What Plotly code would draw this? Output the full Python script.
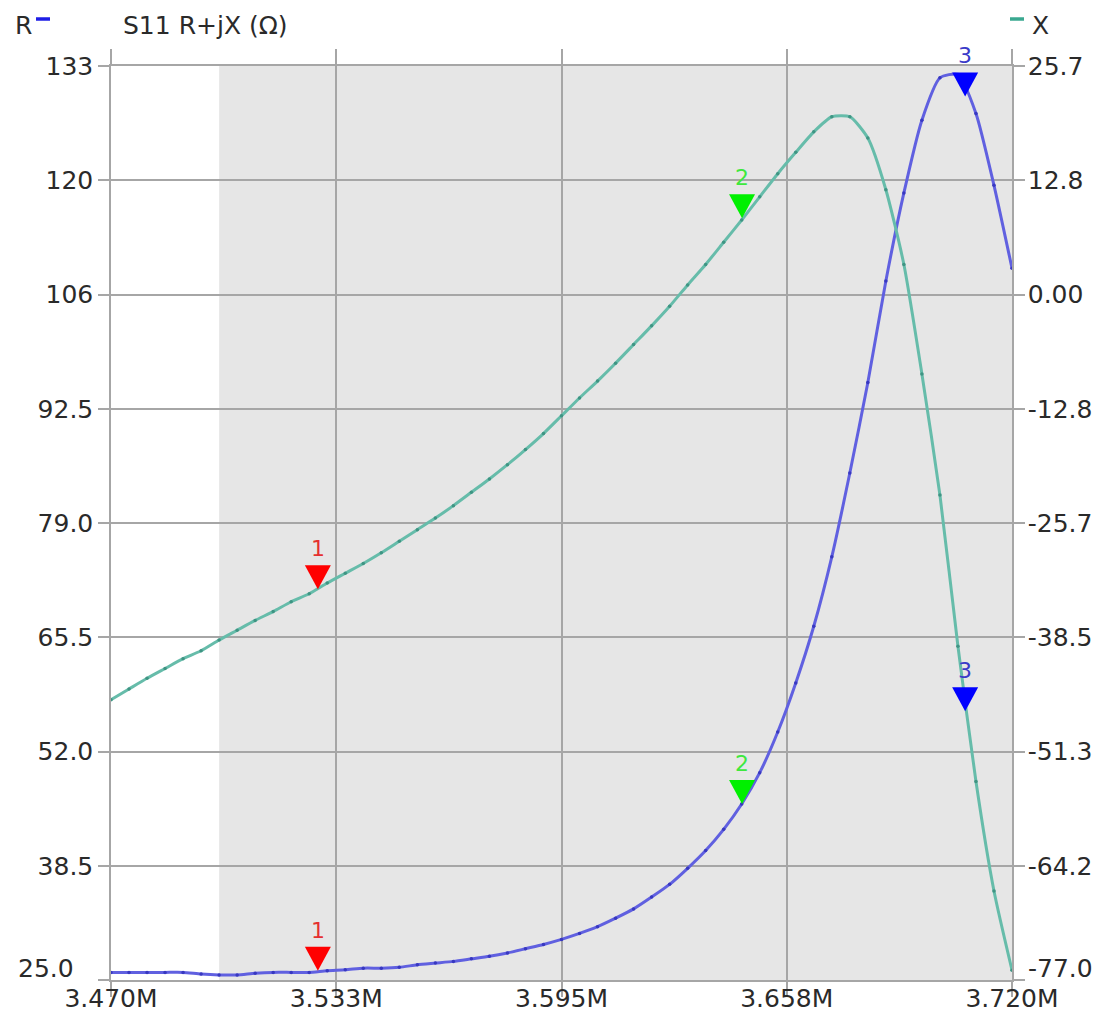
import plotly.graph_objects as go

# ---------------- data ----------------
freq_mhz = [3.470, 3.475, 3.480, 3.485, 3.490, 3.495, 3.500, 3.505, 3.510, 3.515,
            3.520, 3.525, 3.530, 3.535, 3.540, 3.545, 3.550, 3.555, 3.560, 3.565,
            3.570, 3.575, 3.580, 3.585, 3.590, 3.595, 3.600, 3.605, 3.610, 3.615,
            3.620, 3.625, 3.630, 3.635, 3.640, 3.645, 3.650, 3.655, 3.660, 3.665,
            3.670, 3.675, 3.680, 3.685, 3.690, 3.695, 3.700, 3.705, 3.710, 3.715,
            3.720]

r_ohm = [25.9, 25.9, 25.9, 25.9, 25.9, 25.7, 25.6, 25.6, 25.8, 25.9,
         25.9, 25.9, 26.1, 26.2, 26.4, 26.4, 26.5, 26.8, 27.0, 27.2,
         27.5, 27.8, 28.2, 28.7, 29.2, 29.8, 30.5, 31.3, 32.3, 33.4,
         34.8, 36.3, 38.2, 40.3, 42.8, 45.8, 49.5, 54.3, 60.1, 66.8,
         75.0, 84.9, 95.6, 107.6, 118.0, 126.6, 131.6, 132.0, 127.4, 118.9,
         109.1]

x_ohm = [-45.5, -44.3, -43.1, -42.0, -40.9, -40.0, -38.8, -37.7, -36.6, -35.6,
         -34.5, -33.6, -32.4, -31.3, -30.2, -29.0, -27.7, -26.4, -25.1, -23.7,
         -22.2, -20.7, -19.1, -17.4, -15.6, -13.6, -11.6, -9.7, -7.7, -5.6,
         -3.5, -1.3, 1.1, 3.4, 5.9, 8.4, 11.0, 13.6, 16.0, 18.3,
         20.0, 20.0, 17.6, 11.8, 3.4, -8.9, -22.5, -39.5, -54.7, -67.0,
         -75.9]

marker_ids = ["1", "2", "3"]
marker_freq = [3.5274, 3.6451, 3.7070]
marker_r = [26.1, 45.8, 129.4]
marker_x = [-33.1, 8.6, -46.8]
marker_fill = ["#ff0000", "#00f000", "#0000ff"]
marker_label_color = ["#e53030", "#3ee83e", "#3a3ac8"]

r_tickvals = [25.0, 38.5, 52.0, 65.5, 79.0, 92.5, 106.0, 119.5, 133.0]
r_ticktext = ["25.0", "38.5", "52.0", "65.5", "79.0", "92.5", "106", "120", "133"]
x_tickvals = [-77.0, -64.1625, -51.325, -38.4875, -25.65, -12.8125, 0.025, 12.8625, 25.7]
x_ticktext = ["-77.0", "-64.2", "-51.3", "-38.5", "-25.7", "-12.8", "0.00", "12.8", "25.7"]
f_tickvals = [3.470, 3.5325, 3.595, 3.6575, 3.720]
f_ticktext = ["3.470M", "3.533M", "3.595M", "3.658M", "3.720M"]
band_mhz = [3.500, 3.720]

# ---------------- styling ----------------
FONT = "DejaVu Sans"
FS = 25
TXT = "#2a2a2a"
GRID = "#a6a6a6"
R_COLOR = "#6060e0"
R_DOT = "#3838c0"
X_COLOR = "#66bcaa"
X_DOT = "#3f9483"

fig = go.Figure()

fig.add_trace(go.Scatter(
    x=freq_mhz, y=r_ohm, mode="lines+markers", name="R",
    line=dict(color=R_COLOR, width=3, shape="spline", smoothing=0.6),
    marker=dict(size=3.5, color=R_DOT), yaxis="y", showlegend=False,
    cliponaxis=True))
fig.add_trace(go.Scatter(
    x=freq_mhz, y=x_ohm, mode="lines+markers", name="X",
    line=dict(color=X_COLOR, width=3, shape="spline", smoothing=0.6),
    marker=dict(size=3.5, color=X_DOT), yaxis="y2", showlegend=False,
    cliponaxis=True))

shapes = [dict(type="rect", xref="x", yref="paper", x0=band_mhz[0], x1=band_mhz[1],
               y0=0, y1=1, fillcolor="#e6e6e6", line=dict(width=0), layer="below")]
annotations = []

for i in range(len(marker_ids)):
    for yref, val in (("y", marker_r[i]), ("y2", marker_x[i])):
        shapes.append(dict(type="path", xref="x", yref=yref,
                           xsizemode="pixel", ysizemode="pixel",
                           xanchor=marker_freq[i], yanchor=val,
                           path="M-13,24 L13,24 L0,0 Z",
                           fillcolor=marker_fill[i], line=dict(width=0)))
        annotations.append(dict(x=marker_freq[i], y=val, xref="x", yref=yref,
                                text=marker_ids[i], showarrow=False,
                                yanchor="bottom", yshift=26,
                                font=dict(family=FONT, size=22,
                                          color=marker_label_color[i])))

# positions relative to the plot area, in screen pixels
def px_x(px):
    return (px - 111) / 901.0

def px_y(py):
    return (980 - py) / 914.0

annotations += [
    dict(xref="paper", yref="paper", x=px_x(121), y=px_y(25), text="S11 R+jX (Ω)",
         showarrow=False, xanchor="left", yanchor="middle",
         font=dict(family=FONT, size=FS, color=TXT)),
    dict(xref="paper", yref="paper", x=px_x(34), y=px_y(25), text="R",
         showarrow=False, xanchor="right", yanchor="middle",
         font=dict(family=FONT, size=FS, color=TXT)),
    dict(xref="paper", yref="paper", x=px_x(1030), y=px_y(25), text="X",
         showarrow=False, xanchor="left", yanchor="middle",
         font=dict(family=FONT, size=FS, color=TXT)),
    # bottom corner labels of the two value axes are lifted off the corner
    dict(xref="paper", yref="y", x=px_x(75), y=r_tickvals[0], yshift=12,
         text=r_ticktext[0], showarrow=False, xanchor="right", yanchor="middle",
         borderpad=0, font=dict(family=FONT, size=FS, color=TXT)),
    dict(xref="paper", yref="y2", x=px_x(1027), y=x_tickvals[0], yshift=12,
         text=x_ticktext[0], showarrow=False, xanchor="left", yanchor="middle",
         borderpad=0, font=dict(family=FONT, size=FS, color=TXT)),
]
shapes += [
    dict(type="line", xref="paper", yref="paper", x0=px_x(36), x1=px_x(50),
         y0=px_y(19), y1=px_y(19), line=dict(color="#1e1ee6", width=3.5)),
    dict(type="line", xref="paper", yref="paper", x0=px_x(1010), x1=px_x(1024),
         y0=px_y(19), y1=px_y(19), line=dict(color="#3aa890", width=3.5)),
]

# the corner tick labels are drawn above, so the axes leave them blank
r_axis_text = [""] + r_ticktext[1:]
x_axis_text = [""] + x_ticktext[1:]

axis_common = dict(showgrid=True, gridcolor=GRID, gridwidth=1.5,
                   showline=True, linecolor=GRID, linewidth=1.5,
                   ticks="outside", ticklen=11, tickcolor=GRID, tickwidth=1.5,
                   zeroline=False, automargin=False,
                   tickfont=dict(family=FONT, size=FS, color=TXT))

xaxis_opts = dict(axis_common)
xaxis_opts.update(ticklen=15, ticklabelstandoff=-20)

y2_opts = dict(axis_common)
y2_opts.update(showgrid=False, ticklabelstandoff=-2)

fig.update_layout(
    width=1105, height=1008,
    margin=dict(l=103, r=101, t=58, b=36, pad=0),
    paper_bgcolor="white", plot_bgcolor="white",
    xaxis=dict(range=[3.470, 3.720], tickmode="array", tickvals=f_tickvals,
               ticktext=f_ticktext, mirror="ticks", **xaxis_opts),
    yaxis=dict(range=[25.0, 133.0], tickmode="array", tickvals=r_tickvals,
               ticktext=r_axis_text, mirror=True, **axis_common),
    yaxis2=dict(range=[-77.0, 25.7], tickmode="array", tickvals=x_tickvals,
                ticktext=x_axis_text, overlaying="y", side="right", **y2_opts),
    shapes=shapes, annotations=annotations,
)

fig.write_html("out.html")
